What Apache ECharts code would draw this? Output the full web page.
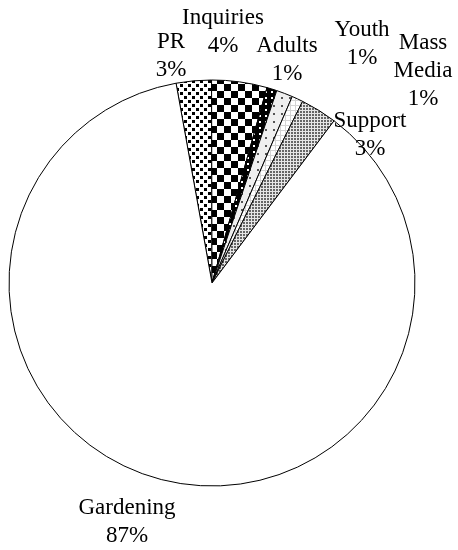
<!DOCTYPE html>
<html>
<head>
<meta charset="utf-8">
<script src="https://cdn.jsdelivr.net/npm/echarts@6/dist/echarts.min.js"></script>
<style>html,body{margin:0;padding:0;background:#fff}#c{width:458px;height:550px}</style>
</head>
<body>
<div id="c"></div>
<script>
const categories = ['PR', 'Inquiries', 'Adults', 'Youth', 'Mass Media', 'Support', 'Gardening'];
const values = [2.8, 4.4, 0.8, 1.3, 0.9, 2.9, 86.9];
// label block centres (annotation placement)
const labelPos = [[171, 56], [223, 32], [287, 60], [362, 44], [423, 71], [370, 135], [127, 522]];

function tile(w, h, draw) {
  const c = document.createElement('canvas');
  c.width = w; c.height = h;
  const g = c.getContext('2d');
  draw(g, w, h);
  return { image: c, repeat: 'repeat' };
}
const patterns = [
  tile(8, 8, (g) => { g.fillStyle = '#fff'; g.fillRect(0,0,8,8); g.fillStyle = '#000'; g.fillRect(0,0,3,3); g.fillRect(4,4,3,3); }),
  tile(14, 14, (g) => { g.fillStyle = '#fff'; g.fillRect(0,0,14,14); g.fillStyle = '#000'; g.fillRect(0,0,7,7); g.fillRect(7,7,7,7); }),
  tile(6, 6, (g) => { g.fillStyle = '#000'; g.fillRect(0,0,6,6); g.fillStyle = '#fff'; g.fillRect(1,1,2,2); }),
  tile(8, 8, (g) => { g.fillStyle = '#efefef'; g.fillRect(0,0,8,8); g.fillStyle = '#555'; g.fillRect(1,1,2,2); }),
  tile(5, 5, (g) => { g.fillStyle = '#fff'; g.fillRect(0,0,5,5); g.fillStyle = '#d4d4d4'; g.fillRect(0,0,5,1); g.fillRect(0,0,1,5); }),
  tile(3, 3, (g) => { g.fillStyle = '#e6e6e6'; g.fillRect(0,0,3,3); g.fillStyle = '#666'; g.fillRect(0,0,2,2); }),
  '#ffffff'
];

const chart = echarts.init(document.getElementById('c'), null, { renderer: 'canvas' });
chart.setOption({
  animation: false,
  series: [{
    type: 'pie',
    center: [212, 283],
    radius: 203,
    startAngle: 100.2,
    clockwise: true,
    percentPrecision: 0,
    avoidLabelOverlap: false,
    data: categories.map((n, i) => ({ name: n, value: values[i], itemStyle: { color: patterns[i] } })),
    itemStyle: { borderColor: '#000', borderWidth: 1 },
    emphasis: { disabled: true },
    label: {
      show: true,
      position: 'outside',
      formatter: (p) => p.name.replace(' ', '\n') + '\n' + Math.round(p.percent) + '%',
      fontFamily: 'Liberation Serif',
      fontSize: 23,
      lineHeight: 28,
      color: '#000',
      align: 'center'
    },
    labelLine: { show: false },
    labelLayout: (params) => {
      const p = labelPos[params.dataIndex];
      return { x: p[0], y: p[1], align: 'center', verticalAlign: 'middle' };
    }
  }]
});
</script>
</body>
</html>
